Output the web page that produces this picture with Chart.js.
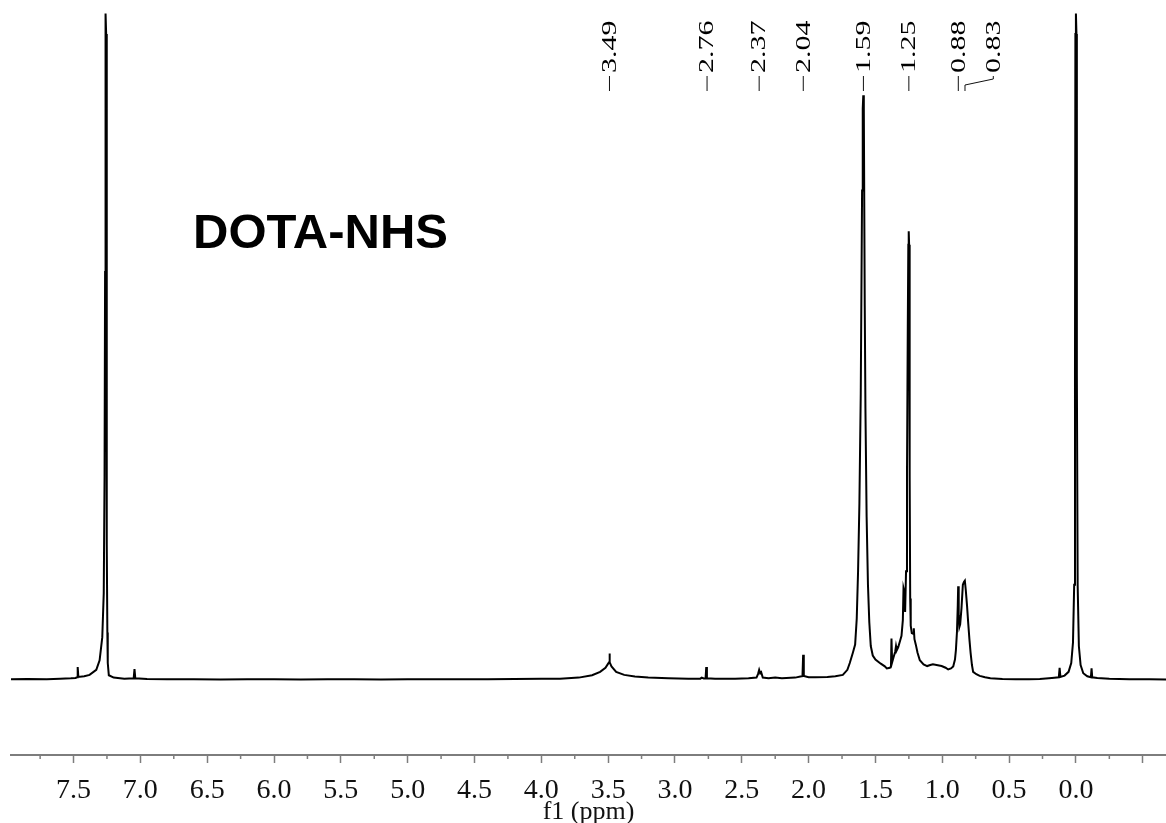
<!DOCTYPE html>
<html>
<head>
<meta charset="utf-8">
<script src="https://cdn.jsdelivr.net/npm/chart.js@4.4.0/dist/chart.umd.min.js"></script>
<style>
  html, body { margin: 0; padding: 0; background: #fff; }
  #wrap { width: 1166px; height: 823px; }
</style>
</head>
<body>
<div id="wrap"><canvas id="nmr" width="1166" height="823"></canvas></div>
<script>
// 1H NMR trace, high ppm -> low ppm
const shifts = [
  7.968, 7.85, 7.70, 7.60, 7.52, 7.485, 7.474, 7.469, 7.464, 7.42, 7.38, 7.33, 7.305, 7.285, 7.274,
  7.268, 7.264, 7.262, 7.259, 7.256, 7.253, 7.250, 7.247, 7.244, 7.236, 7.20, 7.12, 7.050, 7.044, 7.038, 6.95,
  6.80, 6.60, 6.40, 6.20, 6.00, 5.80, 5.60, 5.40, 5.20, 5.00, 4.80, 4.60, 4.40, 4.20, 4.00, 3.86,
  3.72, 3.62, 3.56, 3.52, 3.50, 3.493, 3.490, 3.487, 3.475, 3.44, 3.38, 3.30, 3.20, 3.05, 2.90,
  2.81, 2.80, 2.785, 2.771, 2.766, 2.761, 2.70, 2.55, 2.45, 2.39, 2.378, 2.370, 2.362, 2.355, 2.343,
  2.30, 2.25, 2.20, 2.10, 2.062, 2.046, 2.041, 2.036, 2.00, 1.95, 1.86, 1.80, 1.744, 1.71, 1.692,
  1.669, 1.652, 1.640, 1.630, 1.620, 1.610, 1.600, 1.595, 1.591, 1.587, 1.580, 1.575, 1.566, 1.556, 1.546, 1.535,
  1.52, 1.50, 1.46, 1.43, 1.415, 1.392, 1.384, 1.380, 1.375, 1.365, 1.352, 1.346, 1.340, 1.330,
  1.315, 1.305, 1.295, 1.290, 1.284, 1.278, 1.271, 1.264, 1.258, 1.254, 1.251, 1.248, 1.244, 1.240, 1.236, 1.228,
  1.218, 1.213, 1.208, 1.198, 1.185, 1.168, 1.14, 1.113, 1.09, 1.07, 1.043, 1.005, 0.975, 0.956,
  0.935, 0.918, 0.905, 0.898, 0.890, 0.884, 0.881, 0.877, 0.872, 0.866, 0.856, 0.846, 0.838, 0.831,
  0.824, 0.815, 0.806, 0.797, 0.788, 0.778, 0.769, 0.745, 0.72, 0.68, 0.64, 0.55, 0.45, 0.35, 0.27,
  0.18, 0.128, 0.122, 0.116, 0.085, 0.055, 0.035, 0.022, 0.013, 0.007, 0.004, 0.0, -0.004, -0.007,
  -0.013, -0.022, -0.035, -0.055, -0.085, -0.112, -0.117, -0.122, -0.16, -0.25, -0.40, -0.55, -0.674
];
const intensities = [
  0.10, 0.15, 0.10, 0.20, 0.25, 0.30, 0.40, 1.90, 0.45, 0.55, 0.75, 1.50, 2.90, 6.30, 12.8,
  30, 60, 95, 98, 95, 60, 20, 7, 2.5, 0.7, 0.35, 0.20, 0.25, 1.60, 0.25, 0.15,
  0.10, 0.12, 0.08, 0.12, 0.10, 0.08, 0.12, 0.10, 0.08, 0.12, 0.10, 0.10, 0.12, 0.15, 0.18, 0.20,
  0.35, 0.70, 1.20, 1.80, 2.40, 2.6, 3.9, 2.6, 2.0, 1.2, 0.75, 0.50, 0.35, 0.25, 0.20,
  0.20, 0.35, 0.22, 0.25, 1.90, 0.25, 0.18, 0.20, 0.25, 0.35, 0.90, 1.50, 1.00, 1.15, 0.35,
  0.25, 0.35, 0.25, 0.35, 0.50, 0.55, 3.70, 0.60, 0.40, 0.40, 0.45, 0.55, 0.75, 1.50, 2.50,
  4.00, 5.20, 9.0, 16, 26, 42, 72, 84, 86, 84, 55, 40, 24, 14, 8.5, 5.0,
  3.6, 3.0, 2.4, 2.0, 1.7, 1.8, 2.0, 6.1, 2.6, 3.3, 4.2, 5.0, 4.4, 4.8,
  5.8, 6.5, 8.8, 13.5, 13.0, 10.0, 16, 30, 52, 64, 66, 64, 30, 12, 8.0, 6.9,
  6.8, 7.6, 6.0, 5.2, 4.0, 2.9, 2.3, 2.05, 2.2, 2.3, 2.2, 2.05, 1.8, 1.55,
  1.7, 2.0, 3.0, 4.4, 7.1, 11, 13.8, 9.5, 7.8, 8.2, 10.6, 14.0, 14.4, 14.6,
  13.2, 11.0, 8.4, 6.0, 4.0, 2.2, 1.2, 0.85, 0.60, 0.40, 0.25, 0.15, 0.12, 0.10, 0.15,
  0.30, 0.40, 1.80, 0.45, 0.65, 1.2, 2.5, 5.5, 14, 45, 95, 98, 95, 45,
  14, 5.0, 2.2, 1.0, 0.55, 0.40, 1.70, 0.40, 0.30, 0.18, 0.12, 0.10, 0.08
];
const peakShifts = [3.49, 2.76, 2.37, 2.04, 1.59, 1.25, 0.88, 0.83];
const peakTexts = ['3.49', '2.76', '2.37', '2.04', '1.59', '1.25', '0.88', '0.83'];
const tickLabels = ['7.5', '7.0', '6.5', '6.0', '5.5', '5.0', '4.5', '4.0', '3.5', '3.0', '2.5', '2.0', '1.5', '1.0', '0.5', '0.0'];
const sampleName = 'DOTA-NHS';
const axisTitle = 'f1 (ppm)';

const isMajor = v => Math.abs(v * 2 - Math.round(v * 2)) < 1e-6;

const overlay = {
  id: 'overlay',
  afterDraw(chart) {
    const { ctx, scales: { x } } = chart;
    ctx.save();

    // short minor ticks
    ctx.strokeStyle = '#7d7d7d';
    ctx.lineWidth = 1.5;
    x.ticks.forEach(t => {
      if (isMajor(t.value)) return;
      const px = x.getPixelForValue(t.value);
      ctx.beginPath();
      ctx.moveTo(px, x.top);
      ctx.lineTo(px, x.top + 4);
      ctx.stroke();
    });

    // sample name
    ctx.fillStyle = '#000';
    ctx.font = 'bold 49px "Liberation Sans", Arial, sans-serif';
    ctx.textAlign = 'left';
    ctx.textBaseline = 'alphabetic';
    ctx.fillText(sampleName, 193, 248);

    // peak picking labels
    ctx.strokeStyle = '#111';
    ctx.lineWidth = 1;
    let prev = -Infinity;
    peakShifts.forEach((s, i) => {
      const px = x.getPixelForValue(s);
      const lx = Math.max(px, prev + 35);
      prev = lx;
      ctx.beginPath();
      ctx.moveTo(lx, 76);
      ctx.lineTo(lx, 79);
      ctx.lineTo(px, 85);
      ctx.lineTo(px, 91);
      ctx.stroke();

      ctx.save();
      ctx.translate(lx + 1, 73);
      ctx.rotate(-Math.PI / 2);
      ctx.scale(1.5, 1);
      ctx.font = '20px "Liberation Serif", "Times New Roman", serif';
      ctx.fillStyle = '#000';
      ctx.textAlign = 'left';
      ctx.textBaseline = 'middle';
      ctx.fillText(peakTexts[i], 0, 0);
      ctx.restore();
    });
    ctx.restore();
  }
};

new Chart(document.getElementById('nmr'), {
  type: 'line',
  data: {
    datasets: [{
      data: shifts.map((s, i) => ({ x: s, y: intensities[i] })),
      borderColor: '#000',
      borderWidth: 2,
      pointRadius: 0,
      tension: 0,
      fill: false
    }]
  },
  options: {
    responsive: false,
    devicePixelRatio: 1,
    animation: false,
    layout: { padding: { left: 11, right: 0, top: 0, bottom: 0 } },
    plugins: { legend: { display: false }, tooltip: { enabled: false } },
    scales: {
      x: {
        type: 'linear',
        reverse: true,
        min: -0.674,
        max: 7.968,
        position: 'bottom',
        border: { color: '#7d7d7d', width: 2 },
        grid: {
          drawOnChartArea: false,
          tickLength: 8,
          tickWidth: 1.5,
          tickColor: c => (c.tick && isMajor(c.tick.value)) ? '#7d7d7d' : 'rgba(0,0,0,0)'
        },
        ticks: {
          stepSize: 0.25,
          includeBounds: false,
          autoSkip: false,
          maxRotation: 0,
          padding: 11,
          color: '#111',
          font: { family: '"Liberation Serif", "Times New Roman", serif', size: 28 },
          callback: v => {
            const lbl = Number(v).toFixed(1);
            return isMajor(v) && tickLabels.includes(lbl) ? lbl : '';
          }
        },
        title: {
          display: true,
          text: axisTitle,
          color: '#111',
          font: { family: '"Liberation Serif", "Times New Roman", serif', size: 26 },
          padding: { top: -8, bottom: -5 }
        },
        afterFit: s => { s.height = 68; }
      },
      y: {
        display: false,
        min: -11.03,
        max: 100
      }
    }
  },
  plugins: [overlay]
});
</script>
</body>
</html>
